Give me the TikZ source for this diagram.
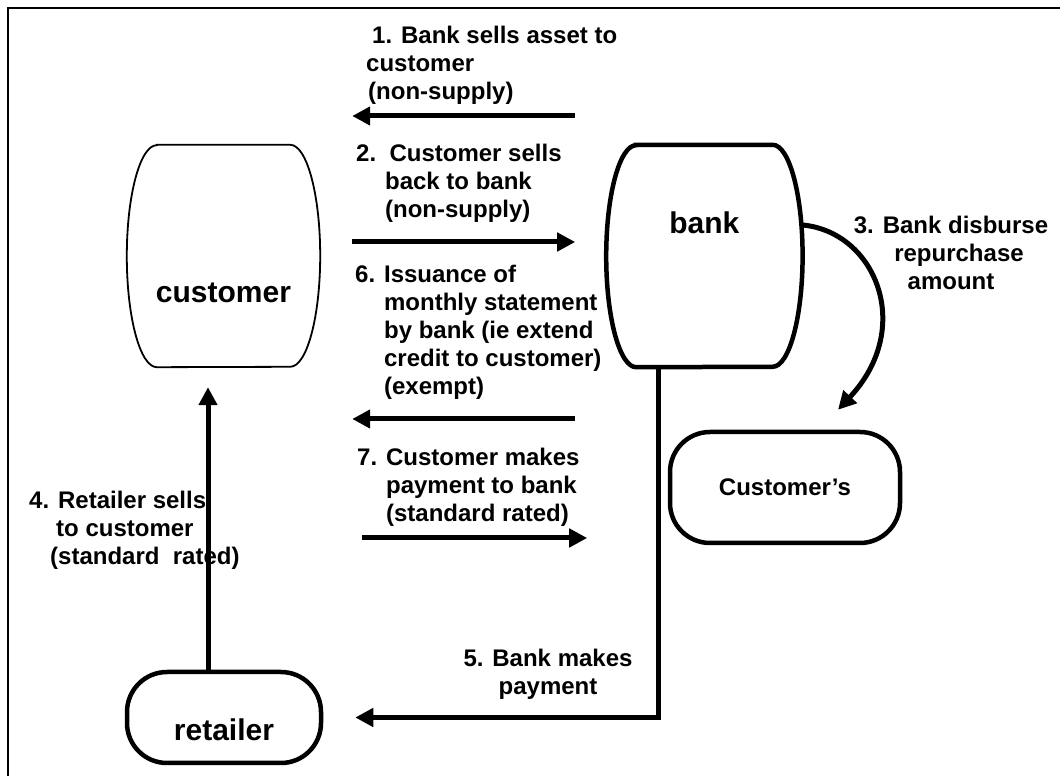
\documentclass[tikz,border=0pt]{standalone}
\usepackage{fontspec}
\setmainfont{Liberation Sans}
\usetikzlibrary{positioning,arrows.meta}
\tikzstyle{barrel} = [rectangle, minimum width=194pt, minimum height=222pt, inner sep=0pt]
\tikzstyle{pill} = [rectangle, rounded corners=40pt, draw=black, line width=4.5pt, inner sep=0pt]
\tikzstyle{arrow} = [line width=5pt,->,>={Triangle[length=18pt,width=18pt]}]
\tikzstyle{lbl} = [inner sep=0pt, font=\fontsize{24}{28}\selectfont\bfseries]
\tikzstyle{party} = [inner sep=0pt, font=\fontsize{30}{36}\selectfont\bfseries]
% outline of a barrel node: name, line width
\newcommand{\barrel}[2]{%
  \draw[line width=#2] ([xshift=30pt]#1.north west) -- ([xshift=-30pt]#1.north east)
    arc[start angle=90, end angle=-90, x radius=30pt, y radius=111pt]
    -- ([xshift=30pt]#1.south west)
    arc[start angle=270, end angle=90, x radius=30pt, y radius=111pt] -- cycle;}

\begin{document}
\begin{tikzpicture}[x=1pt, y=1pt]
    \clip (0,0) rectangle (1060,776);
    \draw[line width=2.5pt] (8,-20) rectangle (1080,768);

    % parties
    \node (customer) [barrel, minimum width=193pt, label={[party, yshift=-37pt]center:customer}] at (223.5,520) {};
    \node (bank) [barrel, minimum width=196pt, right=286pt of customer, label={[party, yshift=33pt]center:bank}] {};
    \barrel{customer}{1.8pt}
    \barrel{bank}{4.5pt}
    \node (account) [pill, minimum width=230pt, minimum height=111pt, font=\fontsize{24}{28}\selectfont\bfseries] at (785,288.5) {Customer's};
    \node (retailer) [pill, minimum width=194pt, minimum height=91pt, label={[party, yshift=-12.5pt]center:retailer}] at (224,58.5) {};

    % flows
    \node (t1) [lbl, anchor=south west, align=left] at (366,671) {\hspace{6pt}1. Bank sells asset to\\customer\\\hspace{2pt}(non-supply)};
    \draw [arrow] (bank.west) ++(-31,140) -- ++(-223,0);
    \node (t2) [lbl, anchor=south west, align=left] at (356,553) {2.\ \ Customer sells\\\phantom{2. }back to bank\\\phantom{2. }(non-supply)};
    \draw [arrow] (customer.east) ++(32,14) -- ++(223,0);
    \node (t3) [lbl, anchor=north, align=center] at (951,560) {3. Bank disburse\\\hspace{16pt}repurchase\\amount};
    \draw [arrow] ([yshift=31pt]bank.east) .. controls +(73,-7) and +(77,82) .. ([xshift=53pt,yshift=20pt]account.north);
    \node (t4) [lbl, anchor=south west, align=left] at (29,206) {4. Retailer sells\\\hspace{27pt}to customer\\\hspace{21pt}(standard\ \ rated)};
    \draw [arrow] ([xshift=-16pt]retailer.north) -- ([xshift=-15.5pt,yshift=-20pt]customer.south);
    \node (t5) [lbl, anchor=south, align=center] at (548,76) {5. Bank makes\\payment};
    \draw [arrow] ([xshift=-46pt]bank.south) |- ([xshift=32pt]retailer.east);
    \node (t6) [lbl, anchor=south west, align=left] at (355,376) {6. Issuance of\\\phantom{6. }monthly statement\\\phantom{6. }by bank (ie extend\\\phantom{6. }credit to customer)\\\phantom{6. }(exempt)};
    \draw [arrow] (bank.west) ++(-31,-163) -- ++(-223,0);
    \node (t7) [lbl, anchor=south west, align=left] at (357,249) {7. Customer makes\\\phantom{7. }payment to bank\\\phantom{7. }(standard rated)};
    \draw [arrow] (customer.east) ++(42,-282) -- ++(225,0);
\end{tikzpicture}
\end{document}
